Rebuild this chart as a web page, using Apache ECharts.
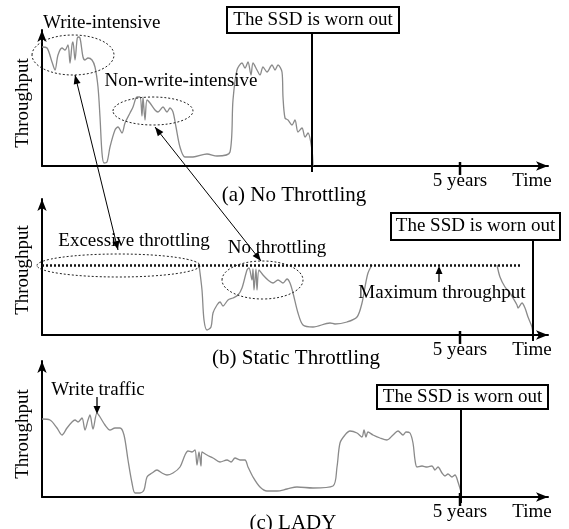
<!DOCTYPE html>
<html>
<head>
<meta charset="utf-8">
<script src="https://cdn.jsdelivr.net/npm/echarts@6/dist/echarts.min.js"></script>
<style>
  html, body { margin: 0; padding: 0; background: #fff; }
  #chart { width: 569px; height: 529px; }
</style>
</head>
<body>
<div id="chart"></div>
<script>
// Time on the x axis and throughput on the y axis are schematic units.
// Each curve is a list of [time, throughput] points.
const noThrottling = [[0,119],[5,118],[10,104],[13,96],[16,111],[20,118],[23,116],[26,121],[28,103],[30,121],[31,124],[33,106],[35,126],[36,129],[38,128],[41,109],[43,106],[46,108],[50,106],[53,99],[56,79],[58,49],[60,13],[62,3],[65,4],[68,19],[73,36],[76,39],[80,33],[83,43],[88,53],[91,59],[95,69],[98,69],[100,50],[101,69],[103,46],[105,66],[108,63],[113,56],[116,54],[121,59],[125,54],[128,58],[131,54],[134,39],[138,19],[143,9],[151,9],[165,12],[175,10],[188,14],[191,66],[195,96],[200,103],[203,98],[206,104],[209,91],[211,103],[215,96],[218,91],[221,99],[225,94],[230,101],[233,96],[236,101],[240,94],[241,69],[243,48],[246,46],[250,41],[253,46],[256,34],[260,38],[263,29],[266,33],[270,16],[271,0]];

// null marks the stretches where throughput sits on the static cap
const staticThrottling = [[157,70],[160,45],[162,15],[165,5],[169,8],[171,22],[175,30],[178,33],[181,29],[186,35],[191,37],[196,40],[200,47],[205,65],[207,67],[210,55],[211,66],[212,45],[214,66],[215,45],[217,65],[221,60],[226,55],[231,52],[236,55],[241,52],[245,56],[248,52],[251,42],[256,22],[261,10],[271,8],[288,12],[293,11],[305,13],[315,18],[320,32],[323,48],[326,62],[330,70],null,[455,70],[458,58],[463,48],[468,42],[471,37],[475,30],[476,27],[480,32],[483,27],[486,18],[490,8],[491,0]];

const lady = [[0,78],[8,77],[15,69],[20,62],[25,69],[30,75],[33,77],[36,75],[40,79],[43,67],[46,77],[48,82],[51,68],[55,84],[58,80],[63,72],[68,67],[73,69],[78,69],[82,62],[86,37],[90,14],[93,4],[98,4],[102,7],[105,20],[110,24],[115,27],[120,24],[125,22],[131,24],[138,30],[143,42],[146,46],[150,45],[153,47],[155,32],[157,45],[159,31],[160,45],[165,42],[171,39],[178,35],[185,37],[189,35],[193,39],[198,37],[203,37],[206,30],[211,20],[218,10],[225,6],[235,6],[245,8],[255,10],[271,9],[291,11],[295,30],[298,54],[303,62],[308,66],[315,64],[320,60],[322,67],[324,60],[326,65],[331,62],[338,59],[345,57],[351,62],[356,66],[361,62],[364,65],[368,64],[371,54],[373,37],[375,30],[380,31],[385,30],[390,31],[393,27],[396,30],[400,24],[403,21],[406,23],[410,20],[413,22],[416,15],[419,5]];

const maxThroughput = 70;          // static throttling cap
const capEnd = 480;
const fiveYears = 418;
const timeLabelAt = 490;
const wornOut = [270, 491, 419];   // time at which the SSD wears out, per panel
const captions = ['(a) No Throttling', '(b) Static Throttling', '(c) LADY'];
const xTickLabels = { 418: '5 years', 490: 'Time' };
const yTitle = 'Throughput';

const serif = '"Liberation Serif", "Times New Roman", serif';
const curveColor = '#8a8a8a';
const gridTops = [30, 199, 361];
const plotH = 136, plotW = 506, plotL = 42;

const chart = echarts.init(document.getElementById('chart'), null, { renderer: 'canvas' });

const arrowAxisLine = {
  show: true,
  symbol: ['none', 'arrow'],
  symbolSize: [7, 12],
  lineStyle: { color: '#000', width: 2 }
};

const option = {
  animation: false,
  backgroundColor: '#fff',
  grid: gridTops.map(top => ({ left: plotL, top: top, width: plotW, height: plotH })),
  xAxis: gridTops.map((_, i) => ({
    type: 'value', gridIndex: i, min: 0, max: plotW,
    axisLine: arrowAxisLine,
    axisTick: { show: false },
    splitLine: { show: false },
    axisLabel: {
      show: true,
      customValues: [fiveYears, timeLabelAt],
      formatter: v => xTickLabels[v] || '',
      color: '#000', fontFamily: serif, fontSize: 19, margin: 6
    }
  })),
  yAxis: gridTops.map((_, i) => ({
    type: 'value', gridIndex: i, min: 0, max: plotH,
    axisLine: arrowAxisLine,
    axisTick: { show: false },
    axisLabel: { show: false },
    splitLine: { show: false }
  })),
  series: [
    {
      type: 'line', xAxisIndex: 0, yAxisIndex: 0, data: noThrottling,
      showSymbol: false, smooth: 0.3, lineStyle: { color: curveColor, width: 1.3 }
    },
    {
      type: 'line', xAxisIndex: 1, yAxisIndex: 1, data: staticThrottling,
      showSymbol: false, smooth: 0.3, connectNulls: false,
      lineStyle: { color: curveColor, width: 1.3 },
      markLine: {
        silent: true, symbol: 'none', label: { show: false },
        lineStyle: { color: '#111', width: 2.5, type: [2, 2] },
        data: [[{ coord: [0, maxThroughput] }, { coord: [capEnd, maxThroughput] }]]
      }
    },
    {
      type: 'line', xAxisIndex: 2, yAxisIndex: 2, data: lady,
      showSymbol: false, smooth: 0.3, lineStyle: { color: curveColor, width: 1.3 }
    }
  ]
};
chart.setOption(option);

// ---- annotations, positioned through each grid's scales ----
const P = (g, t, v) => chart.convertToPixel({ gridIndex: g }, [t, v]);
const g = [];

function text(str, p, size, align, rotation) {
  g.push({
    type: 'text', x: p[0], y: p[1], z: 20, rotation: rotation || 0,
    style: { text: str, font: size + 'px ' + serif, fill: '#000', align: align || 'center', verticalAlign: 'middle' }
  });
}
function line(a, b, w, dash) {
  g.push({
    type: 'line', z: 15,
    shape: { x1: a[0], y1: a[1], x2: b[0], y2: b[1] },
    style: { stroke: '#000', lineWidth: w, lineDash: dash || null }
  });
}
function head(tip, from, len, hw) {
  const dx = tip[0] - from[0], dy = tip[1] - from[1];
  const d = Math.hypot(dx, dy), ux = dx / d, uy = dy / d;
  const bx = tip[0] - ux * len, by = tip[1] - uy * len;
  g.push({
    type: 'polygon', z: 16,
    shape: { points: [tip, [bx - uy * hw, by + ux * hw], [bx + uy * hw, by - ux * hw]] },
    style: { fill: '#000' }
  });
}
function ellipse(p, rx, ry) {
  g.push({
    type: 'ellipse', z: 14,
    shape: { cx: p[0], cy: p[1], rx: rx, ry: ry },
    style: { fill: 'none', stroke: '#222', lineWidth: 1, lineDash: [2, 2] }
  });
}
function box(str, p, w, h) {
  g.push({
    type: 'rect', z: 18,
    shape: { x: p[0] - w / 2, y: p[1] - h / 2, width: w, height: h },
    style: { fill: '#fff', stroke: '#000', lineWidth: 2 }
  });
  text(str, p, 19);
}

// y-axis titles
text(yTitle, P(0, -19, 63), 19, 'center', Math.PI / 2);
text(yTitle, P(1, -19, 65), 19, 'center', Math.PI / 2);
text(yTitle, P(2, -19, 63), 19, 'center', Math.PI / 2);

// panel (a)
text('Write-intensive', P(0, 1, 143), 19, 'left');
text('Non-write-intensive', P(0, 139, 85), 19);
ellipse(P(0, 31, 111), 41, 20);
ellipse(P(0, 111, 55), 40, 14);
line(P(0, wornOut[0], 133), P(0, wornOut[0], -6), 2);
box('The SSD is worn out', P(0, 271, 146), 172, 26);

// panel (b)
ellipse(P(1, 76.5, 69.5), 81.5, 11.5);
ellipse(P(1, 220.5, 55), 40.5, 19);
text('Excessive throttling', P(1, 92, 94), 19);
text('No throttling', P(1, 235, 87), 19);
text('Maximum throughput', P(1, 400, 42), 19);
line(P(1, 397, 53), P(1, 397, maxThroughput - 3), 1.3);
head(P(1, 397, maxThroughput - 1), P(1, 397, 53), 8, 3.5);
line(P(1, wornOut[1], 95), P(1, wornOut[1], -6), 2);
box('The SSD is worn out', P(1, 433.5, 108.5), 169, 27);

// panel (c)
text('Write traffic', P(2, 56, 107), 19);
line(P(2, 55, 100), P(2, 55, 86), 1.3);
head(P(2, 55, 83), P(2, 55, 100), 8, 3.5);
line(P(2, wornOut[2], 88), P(2, wornOut[2], -6), 2);
box('The SSD is worn out', P(2, 420.5, 100), 171, 24);

// "5 years" tick marks and captions
[0, 1, 2].forEach(i => {
  line(P(i, fiveYears, 4), P(i, fiveYears, -9), 2.5);
});
text(captions[0], P(0, 252, -29), 21);
text(captions[1], P(1, 254, -23), 21);
text(captions[2], P(2, 251, -26), 21);

// double-headed arrows linking the regions across panels (a) and (b)
[[P(0, 33, 91), P(1, 76, 85)], [P(0, 113, 39), P(1, 219, 74)]].forEach(([a, b]) => {
  line(a, b, 1);
  head(a, b, 9, 3.5);
  head(b, a, 9, 3.5);
});

chart.setOption({ graphic: { elements: g } });
</script>
</body>
</html>
